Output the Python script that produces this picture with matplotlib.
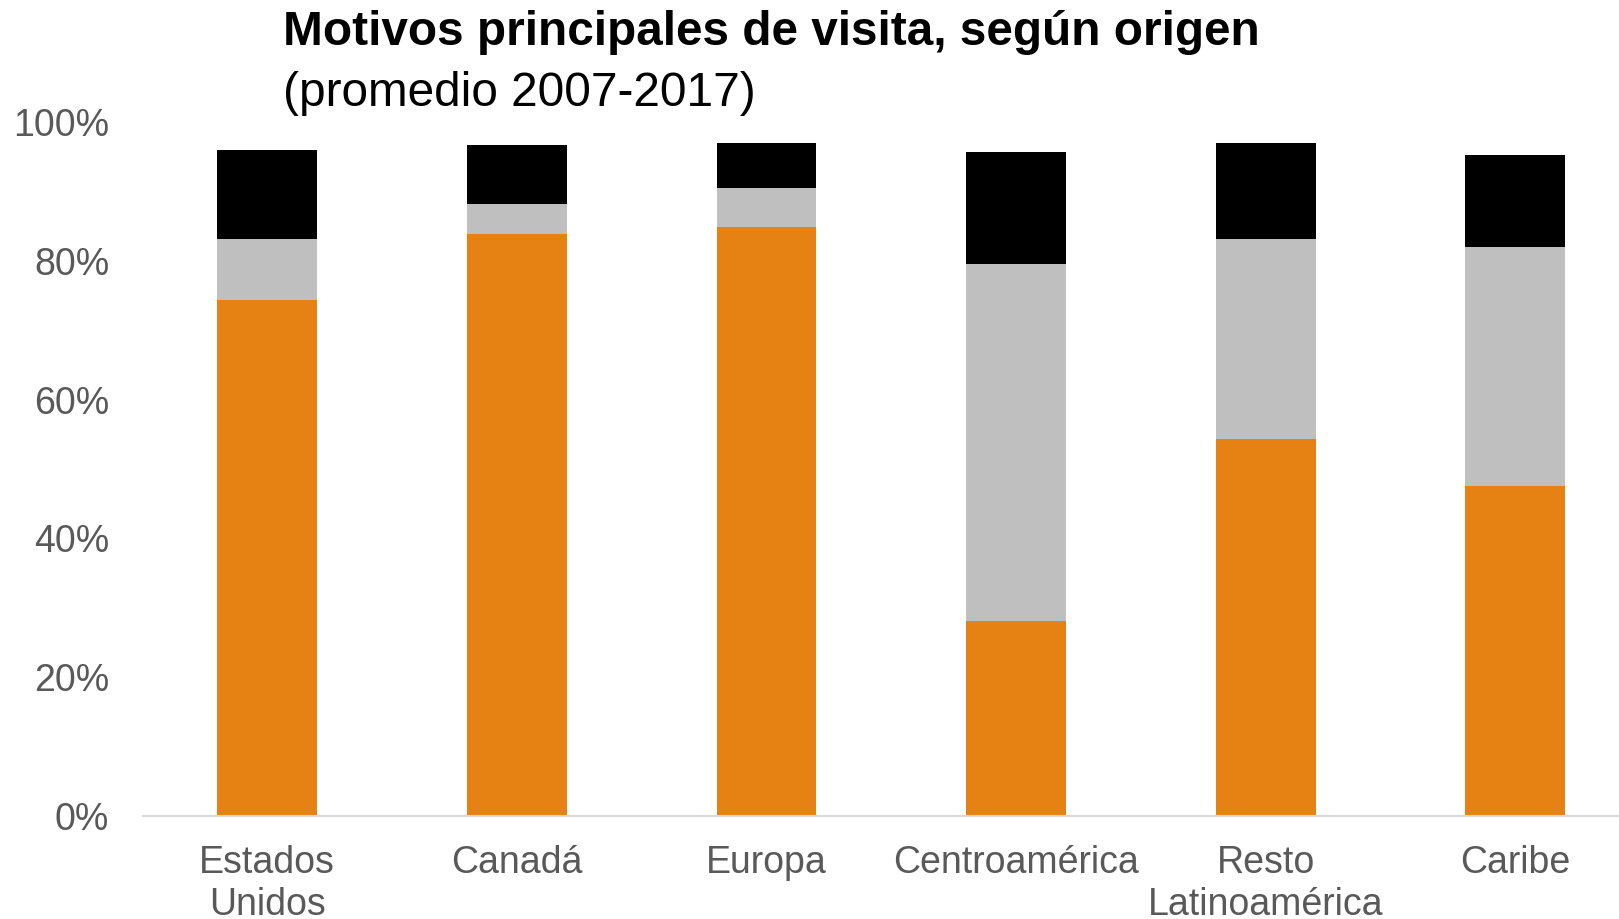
import matplotlib.pyplot as plt
import numpy as np

plt.rcParams['font.family'] = ['Liberation Sans', 'DejaVu Sans']

# Data (shares of visitors, %)
origenes = ['Estados\nUnidos', 'Canadá', 'Europa', 'Centroamérica',
            'Resto\nLatinoamérica', 'Caribe']
motivo_1 = [74.3, 83.8, 84.8, 28.1, 54.3, 47.5]   # orange
motivo_2 = [8.9, 4.4, 5.7, 51.5, 28.9, 34.5]      # gray
motivo_3 = [12.8, 8.5, 6.5, 16.1, 13.8, 13.2]     # black
yticks = [0, 20, 40, 60, 80, 100]

fig = plt.figure(figsize=(16.19, 9.19), dpi=100)
ax = fig.add_axes([142.5 / 1619, 1 - 816 / 919, (1640 - 142.5) / 1619, (816 - 122) / 919])

x = np.arange(len(origenes))
w = 0.4
b1 = np.array(motivo_1)
b2 = b1 + np.array(motivo_2)
ax.bar(x, motivo_1, w, color='#E68213', zorder=2)
ax.bar(x, motivo_2, w, bottom=b1, color='#BFBFBF', zorder=2)
ax.bar(x, motivo_3, w, bottom=b2, color='#000000', zorder=2)

ax.set_xlim(-0.5, len(origenes) - 0.5)
ax.set_ylim(0, 100)
ax.set_yticks(yticks)
ax.set_yticklabels([f'{v}%' for v in yticks])
ax.set_xticks(x)
ax.set_xticklabels(origenes, linespacing=1.2)

for s in ['top', 'right', 'left']:
    ax.spines[s].set_visible(False)
ax.spines['bottom'].set_color('#D9D9D9')
ax.spines['bottom'].set_linewidth(1.5)
ax.tick_params(axis='y', length=0, pad=24, labelsize=27, labelcolor='#595959')
ax.tick_params(axis='x', length=0, pad=21, labelsize=27, labelcolor='#595959')

fig.text(283 / 1619, 0.9505, 'Motivos principales de visita, según origen',
         fontsize=34.4, fontweight='bold', color='black', va='baseline')
fig.text(283 / 1619, 0.8846, '(promedio 2007-2017)',
         fontsize=34.4, color='black', va='baseline')

plt.savefig('out.png', dpi=100)
